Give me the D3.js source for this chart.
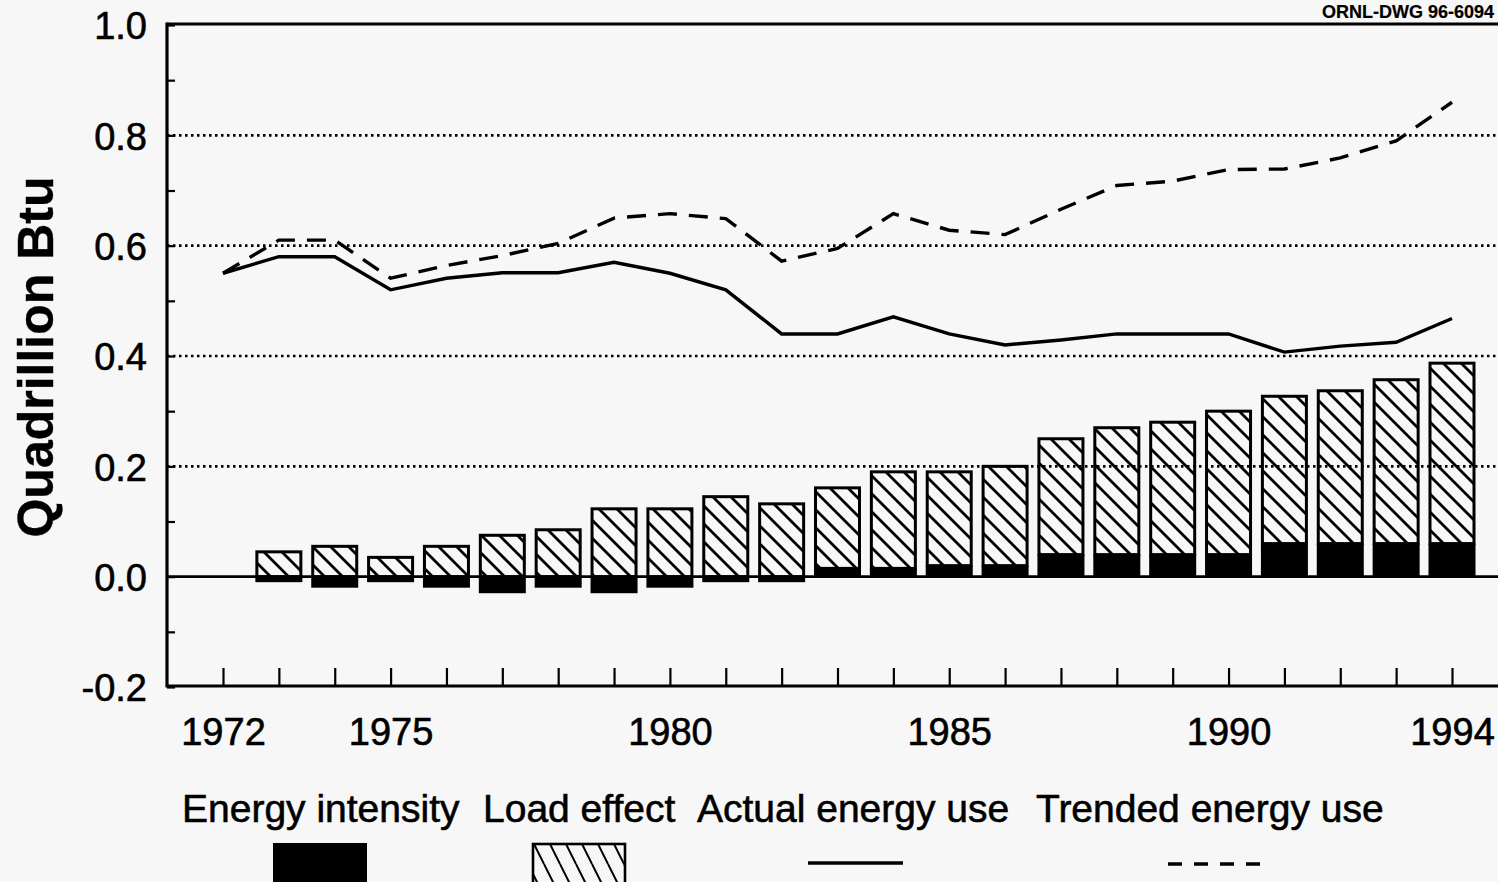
<!DOCTYPE html>
<html>
<head>
<meta charset="utf-8">
<script src="https://cdn.jsdelivr.net/npm/d3@7"></script>
<style>
  body { margin: 0; background: #f7f7f7; }
  svg { display: block; font-family: "Liberation Sans", Arial, sans-serif; }
  svg text { stroke: #000; stroke-width: 0.6px; }
</style>
</head>
<body>
<div id="chart"></div>
<script>
var years = d3.range(1972, 1995);
var barYears = d3.range(1973, 1995);
// black bars (energy intensity effect)
var intensity = [-0.01, -0.02, -0.01, -0.02, -0.03, -0.02, -0.03, -0.02, -0.01, -0.01,
  0.015, 0.015, 0.02, 0.02, 0.04, 0.04, 0.04, 0.04, 0.06, 0.06, 0.06, 0.06];
// hatched bars (load effect), stacked on top of positive intensity
var loadEffect = [0.045, 0.055, 0.035, 0.055, 0.075, 0.085, 0.123, 0.123, 0.145, 0.132,
  0.146, 0.175, 0.17, 0.18, 0.21, 0.23, 0.24, 0.26, 0.267, 0.277, 0.297, 0.327];
var actualUse = [0.55, 0.58, 0.58, 0.52, 0.541, 0.551, 0.551, 0.57, 0.55, 0.52, 0.44,
  0.44, 0.471, 0.44, 0.42, 0.429, 0.44, 0.44, 0.44, 0.407, 0.418, 0.425, 0.468];
var trendedUse = [0.55, 0.61, 0.61, 0.541, 0.564, 0.582, 0.604, 0.65, 0.658, 0.649, 0.572,
  0.595, 0.658, 0.628, 0.62, 0.666, 0.709, 0.717, 0.738, 0.739, 0.759, 0.79, 0.86];
var yTicks = [-0.2, 0.0, 0.2, 0.4, 0.6, 0.8, 1.0];
var yMinor = d3.range(-2, 11).map(function(d) { return d / 10; });
var gridTicks = [0.2, 0.4, 0.6, 0.8];
var xLabels = [1972, 1975, 1980, 1985, 1990, 1994];
var legendNames = ["Energy intensity", "Load effect", "Actual energy use", "Trended energy use"];

var width = 1498, height = 882;

var svg = d3.select("#chart").append("svg")
  .attr("width", width)
  .attr("height", height);

svg.append("rect").attr("width", width).attr("height", height).attr("fill", "#f7f7f7");

var x = d3.scaleLinear().domain([1972, 1994]).range([223, 1452]);
var y = d3.scaleLinear().domain([-0.2, 1.0]).range([687, 25]);
var left = 167, right = 1530;
var barW = 44;

// hatch pattern
var defs = svg.append("defs");
defs.append("pattern")
  .attr("id", "hatch")
  .attr("patternUnits", "userSpaceOnUse")
  .attr("width", 18).attr("height", 18)
  .append("path")
  .attr("d", "M-9,9 L9,27 M0,0 L18,18 M9,-9 L27,9")
  .attr("stroke", "#000")
  .attr("stroke-width", 2.8);

// legend swatch hatch (steeper)
defs.append("pattern")
  .attr("id", "hatch2")
  .attr("patternUnits", "userSpaceOnUse")
  .attr("width", 16).attr("height", 32)
  .append("path")
  .attr("d", "M-16,0 L0,32 M0,0 L16,32 M16,0 L32,32")
  .attr("stroke", "#000")
  .attr("stroke-width", 2);

// dotted grid
svg.append("g").selectAll("line")
  .data(gridTicks)
  .enter().append("line")
  .attr("x1", left).attr("x2", right)
  .attr("y1", function(d) { return y(d); })
  .attr("y2", function(d) { return y(d); })
  .attr("stroke", "#000")
  .attr("stroke-width", 2.6)
  .attr("stroke-dasharray", "2.5,3.5");

// bars
var bars = svg.append("g");
bars.selectAll("rect.load")
  .data(barYears)
  .enter().append("rect")
  .attr("class", "load")
  .attr("x", function(d) { return x(d) - barW / 2; })
  .attr("width", barW)
  .attr("y", function(d, i) { return y(Math.max(0, intensity[i]) + loadEffect[i]); })
  .attr("height", function(d, i) { return y(Math.max(0, intensity[i])) - y(Math.max(0, intensity[i]) + loadEffect[i]); })
  .attr("fill", "url(#hatch)")
  .attr("stroke", "#000")
  .attr("stroke-width", 3);

bars.selectAll("rect.int")
  .data(barYears)
  .enter().append("rect")
  .attr("class", "int")
  .attr("x", function(d) { return x(d) - barW / 2 - 1.5; })
  .attr("width", barW + 3)
  .attr("y", function(d, i) { return y(Math.max(0, intensity[i])); })
  .attr("height", function(d, i) { return Math.abs(y(intensity[i]) - y(0)); })
  .attr("fill", "#000");

// zero line
svg.append("line")
  .attr("x1", left).attr("x2", right)
  .attr("y1", y(0)).attr("y2", y(0))
  .attr("stroke", "#000").attr("stroke-width", 2.6);

// lines
var line = d3.line()
  .x(function(d, i) { return x(years[i]); })
  .y(function(d) { return y(d); });

svg.append("path")
  .datum(trendedUse)
  .attr("d", line)
  .attr("fill", "none")
  .attr("stroke", "#000")
  .attr("stroke-width", 3.4)
  .attr("stroke-dasharray", "19,12");

svg.append("path")
  .datum(actualUse)
  .attr("d", line)
  .attr("fill", "none")
  .attr("stroke", "#000")
  .attr("stroke-width", 3.4);

// frame
svg.append("line").attr("x1", left).attr("x2", right).attr("y1", 24).attr("y2", 24)
  .attr("stroke", "#000").attr("stroke-width", 3.2);
svg.append("line").attr("x1", left).attr("x2", right).attr("y1", 686).attr("y2", 686)
  .attr("stroke", "#000").attr("stroke-width", 3.2);
svg.append("line").attr("x1", left).attr("x2", left).attr("y1", 22.5).attr("y2", 687.5)
  .attr("stroke", "#000").attr("stroke-width", 3.2);

// x axis ticks (pointing up) and labels
var xAxis = d3.axisBottom(x)
  .tickValues(years)
  .tickSizeInner(-18)
  .tickSizeOuter(0)
  .tickPadding(44)
  .tickFormat(function(d) { return xLabels.indexOf(d) >= 0 ? d : ""; });

var gx = svg.append("g")
  .attr("transform", "translate(0,686)")
  .call(xAxis);
gx.select(".domain").remove();
gx.selectAll(".tick line").attr("stroke", "#000").attr("stroke-width", 2.2);
gx.selectAll(".tick text")
  .attr("fill", "#000")
  .attr("dy", 0)
  .attr("y", 59)
  .style("font-size", "38px");

// y minor ticks (inside)
var gyMinor = svg.append("g")
  .attr("transform", "translate(" + left + ",0)")
  .call(d3.axisLeft(y).tickValues(yMinor).tickSizeInner(-8).tickSizeOuter(0).tickFormat(""));
gyMinor.select(".domain").remove();
gyMinor.selectAll(".tick line").attr("stroke", "#000").attr("stroke-width", 2.2);

// y labels
var gy = svg.append("g")
  .attr("transform", "translate(" + left + ",0)")
  .call(d3.axisLeft(y).tickValues(yTicks).tickSize(0).tickPadding(20)
    .tickFormat(function(d) { return d.toFixed(1); }));
gy.select(".domain").remove();
gy.selectAll(".tick text")
  .attr("fill", "#000")
  .attr("dy", "0.36em")
  .style("font-size", "38px");

// y title
svg.append("text")
  .attr("transform", "translate(53,357) rotate(-90)")
  .attr("text-anchor", "middle")
  .style("font-size", "50px")
  .style("font-weight", "bold")
  .style("stroke-width", "0.4px")
  .text("Quadrillion Btu");

// drawing id
svg.append("text")
  .attr("x", 1322).attr("y", 18)
  .style("font-size", "18px")
  .style("font-weight", "bold")
  .style("stroke-width", "0.2px")
  .text("ORNL-DWG 96-6094");

// legend
var legendX = [182, 483, 697, 1036];
svg.append("g").selectAll("text")
  .data(legendNames)
  .enter().append("text")
  .attr("x", function(d, i) { return legendX[i]; })
  .attr("y", 822)
  .style("font-size", "39px")
  .text(function(d) { return d; });

svg.append("rect").attr("x", 273).attr("y", 843).attr("width", 94).attr("height", 45).attr("fill", "#000");
svg.append("rect").attr("x", 533).attr("y", 844).attr("width", 92).attr("height", 45)
  .attr("fill", "url(#hatch2)").attr("stroke", "#000").attr("stroke-width", 2.6);
svg.append("line").attr("x1", 808).attr("x2", 903).attr("y1", 863).attr("y2", 863)
  .attr("stroke", "#000").attr("stroke-width", 3.5);
svg.append("line").attr("x1", 1168).attr("x2", 1262).attr("y1", 864).attr("y2", 864)
  .attr("stroke", "#000").attr("stroke-width", 3.5).attr("stroke-dasharray", "14,12");
</script>
</body>
</html>
